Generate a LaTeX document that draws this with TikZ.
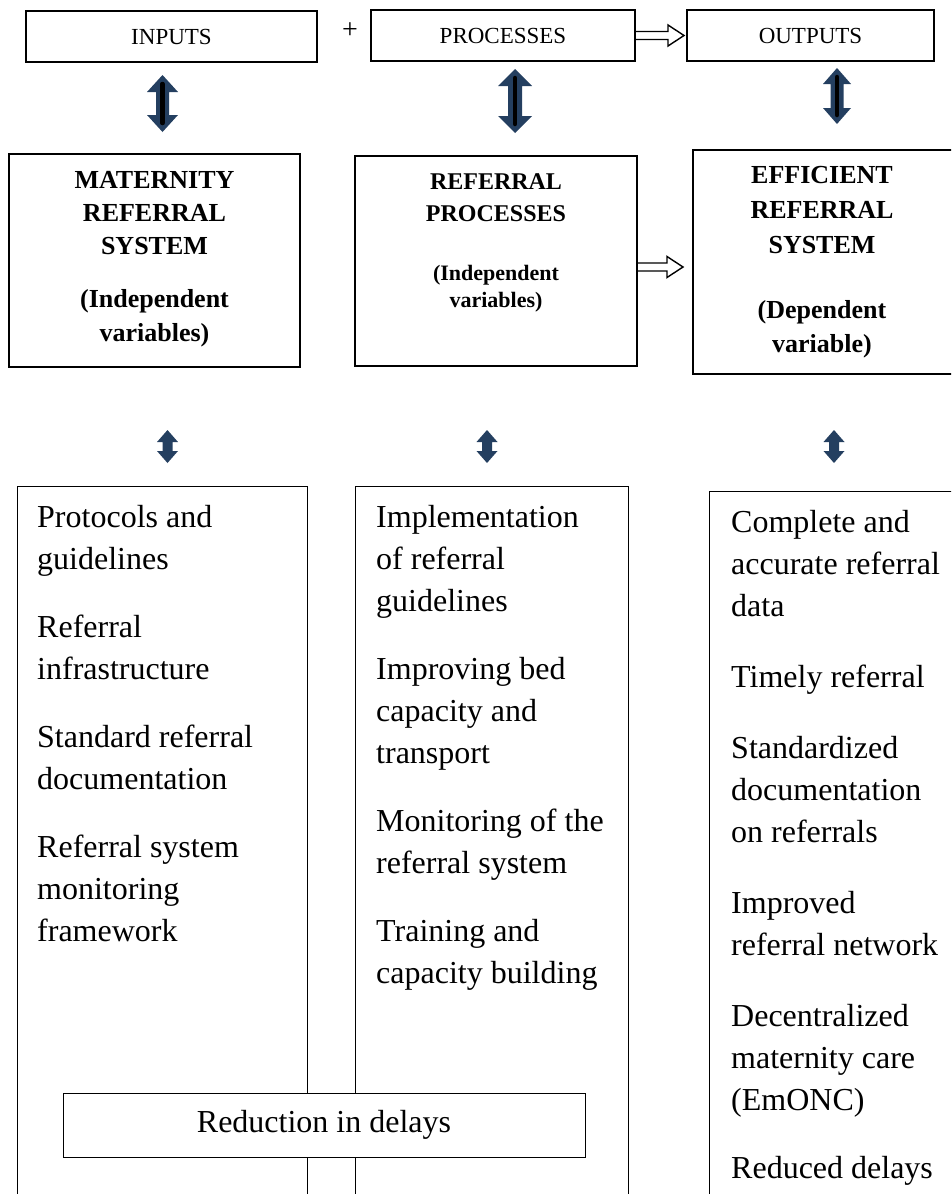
\documentclass[tikz,border=0pt]{standalone}
\usepackage{fontspec}
\setmainfont{Liberation Serif}
\usetikzlibrary{calc}
\definecolor{arrowblue}{HTML}{243F60}

% filled up/down block arrow: x, top, bottom, head half-width, shaft half-width, head length
\newcommand\udblock[6]{%
  \fill[arrowblue] (#1,#2) -- (#1+#4,#2+#6) -- (#1+#5,#2+#6) -- (#1+#5,#3-#6)
    -- (#1+#4,#3-#6) -- (#1,#3) -- (#1-#4,#3-#6) -- (#1-#5,#3-#6)
    -- (#1-#5,#2+#6) -- (#1-#4,#2+#6) -- cycle;}
% black core line inside the larger block arrows: x, top, bottom
\newcommand\udcore[3]{%
  \draw[line width=4.5pt, line cap=round] (#1,#2) -- (#1,#3);}

\begin{document}
\begin{tikzpicture}[x=1pt, y=-1pt,
  box/.style={draw, line width=1.2pt, outer sep=0pt, inner sep=0pt, fill=white},
  colbox/.style={draw, line width=1pt, outer sep=0pt, inner sep=0pt},
  toptxt/.style={inner sep=0pt, font=\fontsize{23}{28}\selectfont},
  hollow/.style={draw, line width=1.4pt, line join=miter},
  coltext/.style={anchor=north west, inner sep=0pt, align=left,
    font=\fontsize{32}{42}\selectfont},
  headtxt/.style={anchor=north, inner sep=0pt, align=center}]

\useasboundingbox (0,0) rectangle (951,1194);
\clip (0,0) rectangle (951,1194);

% top row
\node[box, minimum width=291pt, minimum height=51pt] (inputs) at (171.5,36.5) {};
\node[box, minimum width=264pt, minimum height=51pt] (procs) at (503,35.5) {};
\node[box, minimum width=247pt, minimum height=51pt] (outputs) at (810.5,35.5) {};
\node[toptxt] (inputsT) at (inputs.center) {INPUTS};
\node[toptxt] (procsT) at (procs.center) {PROCESSES};
\node[toptxt] (outputsT) at (outputs.center) {OUTPUTS};
\node[inner sep=0pt, font=\fontsize{28}{32}\selectfont] (plus) at (350,31) {+};

% hollow arrow: processes to outputs
\draw[hollow] ($(procs.east)+(0,-4)$) -- ++(33,0) -- ++(0,-6.5) -- ++(16,10.5)
  -- ++(-16,10.5) -- ++(0,-6.5) -- ++(-33,0);

% double-headed block arrows under the top row
\udblock{162.5}{75}{132}{15.5}{6.5}{17}
\udcore{162.5}{84}{123}
\udblock{515}{69}{133}{17}{7}{17}
\udcore{515}{78}{124}
\udblock{837}{68}{124}{14}{6.5}{16}
\udcore{837}{77}{115}

% middle row of variable boxes
\node[box, minimum width=291pt, minimum height=213pt] (mat) at (154.5,260.5) {};
\node[box, minimum width=282pt, minimum height=210pt] (refp) at (496,261) {};
\node[box, minimum width=272pt, minimum height=224pt] (eff) at (829,262) {};

\node[headtxt, font=\bfseries\fontsize{26}{33}\selectfont] (matT) at (154.5,164.9)
  {\strut MATERNITY\\REFERRAL\\SYSTEM};
\node[headtxt, font=\bfseries\fontsize{26}{34}\selectfont] (matS) at (154.5,283.2)
  {\strut(Independent\\variables)};
\node[headtxt, font=\bfseries\fontsize{24}{32}\selectfont] (refpT) at (496,166.6)
  {\strut REFERRAL\\PROCESSES};
\node[headtxt, font=\bfseries\fontsize{22}{27}\selectfont] (refpS) at (496,261.1)
  {\strut(Independent\\variables)};
\node[headtxt, font=\bfseries\fontsize{26}{35}\selectfont] (effT) at (822,158.5)
  {\strut EFFICIENT\\REFERRAL\\SYSTEM};
\node[headtxt, font=\bfseries\fontsize{26}{34}\selectfont] (effS) at (822,294.2)
  {\strut(Dependent\\variable)};

% hollow arrow: referral processes to efficient system
\draw[hollow] ($(refp.east)+(0,2)$) -- ++(30,0) -- ++(0,-6.5) -- ++(16,10.5)
  -- ++(-16,10.5) -- ++(0,-6.5) -- ++(-30,0);

% small double-headed arrows above the columns
\udblock{167.5}{430}{463}{10.5}{5}{12}
\udblock{487}{430}{463}{10.5}{5}{12}
\udblock{834}{430}{463}{10.5}{5}{12}

% lower columns (run past the bottom edge)
\node[colbox, minimum width=290pt, minimum height=744pt] (col1) at (162,858) {};
\node[colbox, minimum width=273pt, minimum height=744pt] (col2) at (491.5,858) {};
\node[colbox, minimum width=271pt, minimum height=739pt] (col3) at (844.5,860.5) {};

\node[coltext] (col1T) at (37,497.6)
  {\strut Protocols and\\guidelines\\[26pt]Referral\\infrastructure\\[26pt]%
   Standard referral\\documentation\\[26pt]Referral system\\monitoring\\framework};
\node[coltext] (col2T) at (376,497.6)
  {\strut Implementation\\of referral\\guidelines\\[26pt]Improving bed\\capacity and\\%
   transport\\[26pt]Monitoring of the\\referral system\\[26pt]Training and\\capacity building};
\node[coltext] (col3T) at (731,502.6)
  {\strut Complete and\\accurate referral\\data\\[29pt]Timely referral\\[29pt]%
   Standardized\\documentation\\on referrals\\[29pt]Improved\\referral network\\[29pt]%
   Decentralized\\maternity care\\(EmONC)\\[26pt]Reduced delays};

% box laid across the first two columns
\node[box, line width=1pt, minimum width=522pt, minimum height=64pt,
  font=\fontsize{32}{42}\selectfont] (delay) at (324,1125) {Reduction in delays};

\end{tikzpicture}
\end{document}
